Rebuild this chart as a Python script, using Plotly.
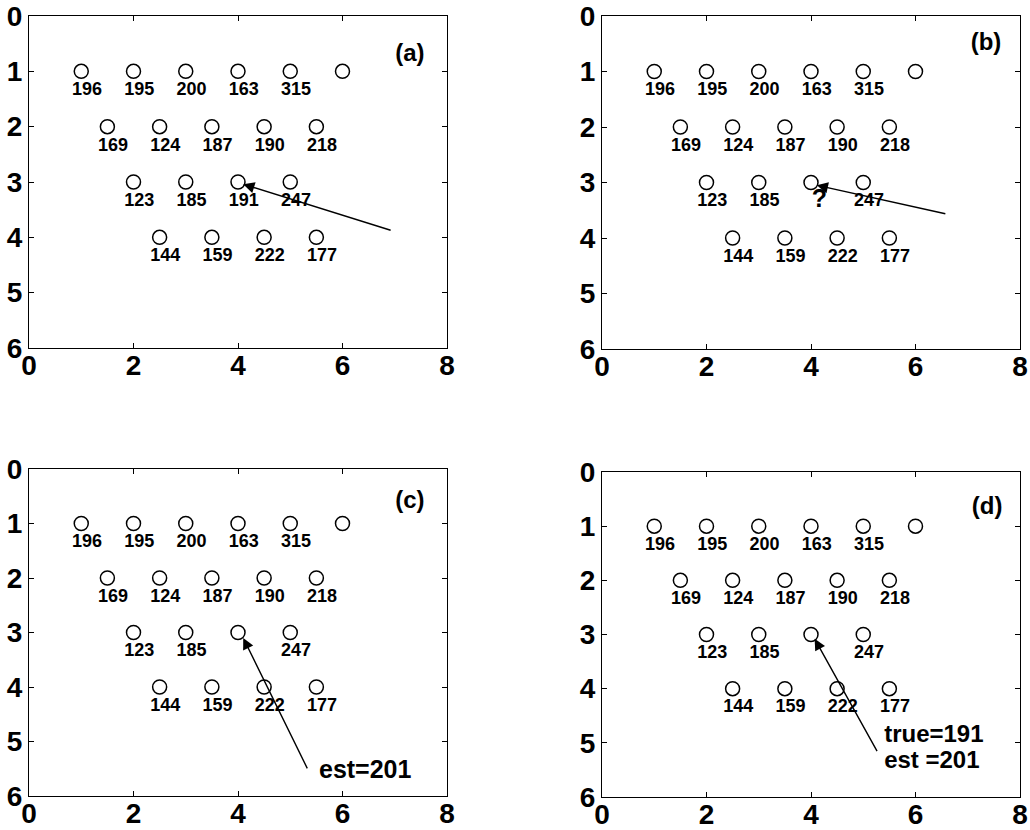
import plotly.graph_objects as go

# ---- data ----
pt_x = [1, 2, 3, 4, 5, 6, 1.5, 2.5, 3.5, 4.5, 5.5, 2, 3, 4, 5, 2.5, 3.5, 4.5, 5.5]
pt_y = [1, 1, 1, 1, 1, 1, 2, 2, 2, 2, 2, 3, 3, 3, 3, 4, 4, 4, 4]
labels_a = ["196", "195", "200", "163", "315", "", "169", "124", "187", "190", "218",
            "123", "185", "191", "247", "144", "159", "222", "177"]
labels_b = ["196", "195", "200", "163", "315", "", "169", "124", "187", "190", "218",
            "123", "185", "", "247", "144", "159", "222", "177"]
labels_c = labels_b
labels_d = labels_b
panel_names = ["(a)", "(b)", "(c)", "(d)"]
panel_label_pos = [(7.29, 0.70), (7.35, 0.50), (7.29, 0.60), (7.37, 0.66)]
# arrows: (head_x, head_y, tail_x, tail_y)
arrows = [(4.10, 3.04, 6.95, 3.88), (4.11, 3.05, 6.60, 3.57),
          (4.10, 3.10, 5.34, 5.52), (4.07, 3.08, 5.28, 5.18)]
qmark_pos = (4.16, 3.33)
est_c = ("est=201", 5.55, 5.56)
est_d = [("true=191", 5.40, 4.87), ("est =201", 5.40, 5.36)]
x_ticks = [0, 2, 4, 6, 8]
y_ticks = [0, 1, 2, 3, 4, 5, 6]

FONT = "Liberation Sans"
W, H = 1030, 830
# panel pixel boxes (left, right, top, bottom)
boxes = [(29, 447, 16, 348), (602, 1020, 16, 349), (29, 447, 469, 796), (602, 1020, 472, 797)]

fig = go.Figure()
layout = {}
all_labels = [labels_a, labels_b, labels_c, labels_d]
dx, dy = 0.11, 0.35

for i in range(4):
    sfx = "" if i == 0 else str(i + 1)
    xa, ya = "x" + sfx, "y" + sfx
    l, r, t, b = boxes[i]
    common = dict(showgrid=False, zeroline=False, showline=True, linecolor="black",
                  linewidth=1, mirror="ticks", ticks="inside", ticklen=5,
                  tickcolor="black", tickwidth=1, automargin=False,
                  tickfont=dict(family=FONT, size=28, color="black", weight="bold"))
    layout["xaxis" + sfx] = dict(common, domain=[l / W, r / W], range=[0, 8],
                                 tickvals=x_ticks, anchor=ya, ticklabelstandoff=-8)
    layout["yaxis" + sfx] = dict(common, domain=[1 - b / H, 1 - t / H], range=[6, 0],
                                 tickvals=y_ticks, anchor=xa)
    fig.add_trace(go.Scatter(x=pt_x, y=pt_y, mode="markers", xaxis=xa, yaxis=ya,
                             marker=dict(symbol="circle-open", size=14, color="black",
                                         line=dict(width=1.5)),
                             showlegend=False, hoverinfo="skip"))
    fig.add_trace(go.Scatter(x=[v + dx for v in pt_x], y=[v + dy for v in pt_y],
                             mode="text", text=all_labels[i], xaxis=xa, yaxis=ya,
                             textfont=dict(family=FONT, size=18, color="black", weight="bold"),
                             showlegend=False, hoverinfo="skip"))
    px_, py_ = panel_label_pos[i]
    fig.add_trace(go.Scatter(x=[px_], y=[py_], mode="text", text=[panel_names[i]],
                             xaxis=xa, yaxis=ya,
                             textfont=dict(family=FONT, size=24, color="black", weight="bold"),
                             showlegend=False, hoverinfo="skip"))
    hx, hy, tx, ty = arrows[i]
    fig.add_annotation(x=hx, y=hy, ax=tx, ay=ty, xref=xa, yref=ya, axref=xa, ayref=ya,
                       text="", showarrow=True, arrowhead=2, arrowsize=1.6,
                       arrowwidth=1.4, arrowcolor="black", standoff=0)

# question mark in (b)
fig.add_trace(go.Scatter(x=[qmark_pos[0]], y=[qmark_pos[1]], mode="text", text=["?"],
                         xaxis="x2", yaxis="y2",
                         textfont=dict(family=FONT, size=25, color="black", weight="bold"),
                         showlegend=False, hoverinfo="skip"))
# estimate texts
fig.add_trace(go.Scatter(x=[est_c[1]], y=[est_c[2]], mode="text", text=[est_c[0]],
                         textposition="middle right", xaxis="x3", yaxis="y3",
                         textfont=dict(family=FONT, size=25, color="black", weight="bold"),
                         showlegend=False, hoverinfo="skip"))
fig.add_trace(go.Scatter(x=[e[1] for e in est_d], y=[e[2] for e in est_d], mode="text",
                         text=[e[0] for e in est_d], textposition="middle right",
                         xaxis="x4", yaxis="y4",
                         textfont=dict(family=FONT, size=24, color="black", weight="bold"),
                         showlegend=False, hoverinfo="skip"))

fig.update_layout(**layout)
fig.update_layout(width=W, height=H, margin=dict(l=0, r=0, t=0, b=0, autoexpand=False),
                  paper_bgcolor="white", plot_bgcolor="white",
                  font=dict(family=FONT, color="black"))
fig.write_html("out.html")
